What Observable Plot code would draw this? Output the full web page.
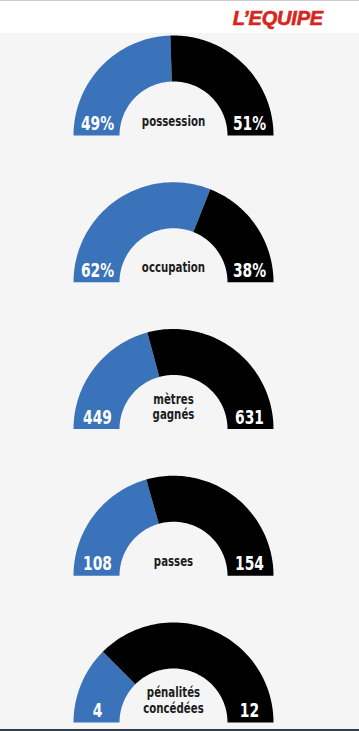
<!DOCTYPE html>
<html>
<head>
<meta charset="utf-8">
<script src="https://cdn.jsdelivr.net/npm/d3@7"></script>
<script src="https://cdn.jsdelivr.net/npm/@observablehq/plot@0.6"></script>
<style>
  html, body { margin: 0; padding: 0; background: #f5f5f5; }
  #header { height: 32px; border-top: 1px solid #cfcfcf; background: #fff; position: relative; }
  #logo { position: absolute; right: 36px; top: 6px; font: italic 700 20px "Liberation Sans", "DejaVu Sans", sans-serif;
          color: #d7261c; letter-spacing: -0.2px; -webkit-text-stroke: 0.6px #d7261c; }
  #chart { height: 696px; overflow: hidden; }
  #bottomline { height: 2px; background: #343e4b; }
</style>
</head>
<body>
<div id="header"><div id="logo">L’EQUIPE</div></div>
<div id="chart"></div>
<div id="bottomline"></div>
<script>
// ---- data ----
const stats = ["possession", "occupation", "mètres\ngagnés", "passes", "pénalités\nconcédées"];
const homeValues = [49, 62, 449, 108, 4];
const awayValues = [51, 38, 631, 154, 12];
const homeLabels = ["49%", "62%", "449", "108", "4"];
const awayLabels = ["51%", "38%", "631", "154", "12"];
const homeColor = "#3a73b9";
const awayColor = "#000000";

// ---- geometry (units: 1 = outer radius) ----
const R_OUT = 1, R_IN = 0.54, R_LABEL = 0.76, STEP = 1.4675;
const font = "'DejaVu Sans', sans-serif";

function ring(a0, a1, base, key) {
  const n = 72, pts = [];
  for (let k = 0; k <= n; ++k) {
    const a = a0 + (a1 - a0) * k / n;
    pts.push({key, x: Math.cos(a) * R_OUT, y: base - Math.sin(a) * R_OUT});
  }
  for (let k = n; k >= 0; --k) {
    const a = a0 + (a1 - a0) * k / n;
    pts.push({key, x: Math.cos(a) * R_IN, y: base - Math.sin(a) * R_IN});
  }
  return pts;
}

const homePts = [], awayPts = [], labels = [];
stats.forEach((s, i) => {
  const base = i * STEP;
  const f = homeValues[i] / (homeValues[i] + awayValues[i]);
  const split = Math.PI * (1 - f);
  homePts.push(...ring(Math.PI, split, base, s));
  awayPts.push(...ring(split, 0, base, s));
  labels.push({text: s, x: 0, y: base - 0.10, kind: "stat"});
  labels.push({text: homeLabels[i], x: -R_LABEL, y: base - 0.055, kind: "value"});
  labels.push({text: awayLabels[i], x: R_LABEL, y: base - 0.055, kind: "value"});
});

const chart = Plot.plot({
  width: 359,
  height: 696,
  margin: 0,
  style: {background: "#f5f5f5", fontFamily: font},
  x: {domain: [-1.73, 1.86], range: [0, 359], axis: null},
  y: {domain: [-1.02, 5.94], range: [0, 696], axis: null},
  marks: [
    Plot.line(homePts, {x: "x", y: "y", z: "key", fill: homeColor, stroke: "none", curve: "linear"}),
    Plot.line(awayPts, {x: "x", y: "y", z: "key", fill: awayColor, stroke: "none", curve: "linear"}),
    Plot.text(labels.filter(d => d.kind === "value"), {
      x: "x", y: "y", text: "text", fill: "#fff", fontSize: 19, fontWeight: "bold",
      fontFamily: font, textAnchor: "middle", lineAnchor: "bottom"
    }),
    Plot.text(labels.filter(d => d.kind === "stat"), {
      x: "x", y: "y", text: "text", fill: "#1c1c1c", fontSize: 14, fontWeight: "bold",
      fontFamily: font, textAnchor: "middle", lineAnchor: "bottom", lineHeight: 1.08
    })
  ]
});
// condense the text horizontally (condensed display face)
chart.querySelectorAll("text").forEach(t => {
  const tr = t.getAttribute("transform");
  if (tr) t.setAttribute("transform", tr + " scale(0.73,1)");
});
document.getElementById("chart").appendChild(chart);
</script>
</body>
</html>
